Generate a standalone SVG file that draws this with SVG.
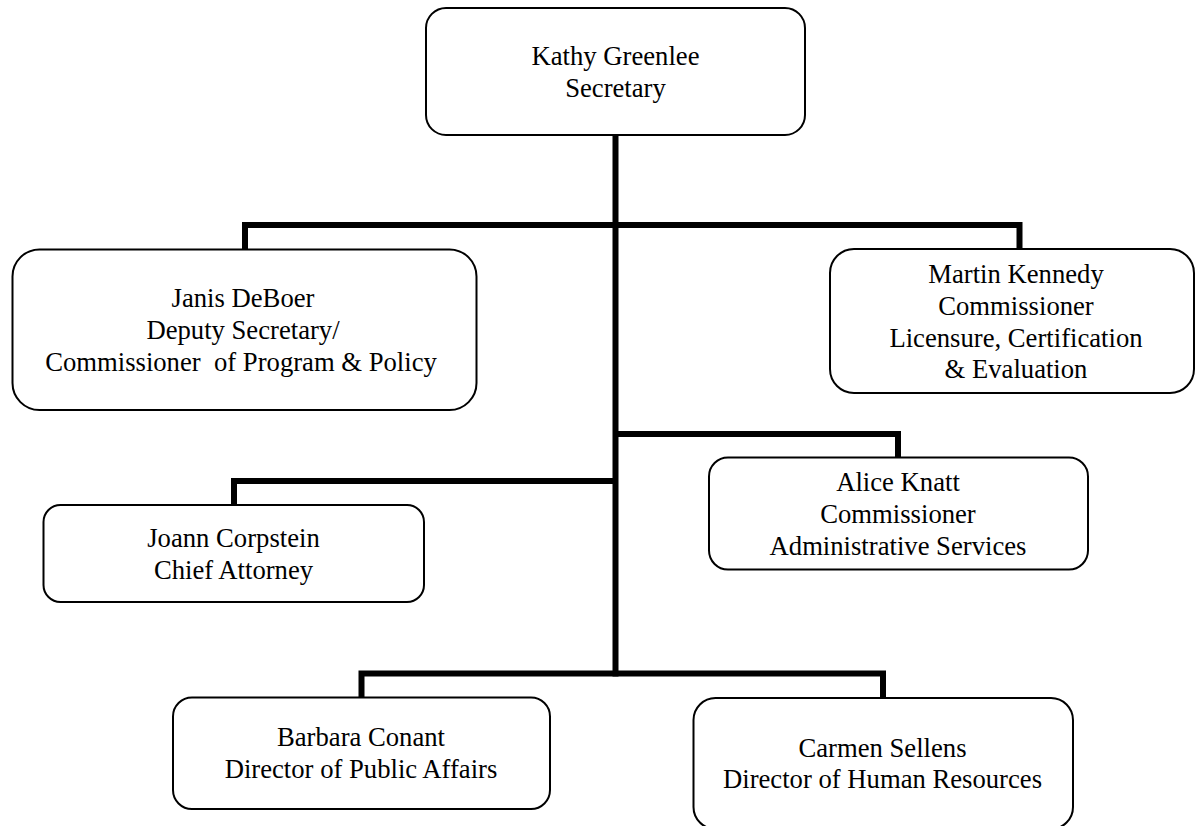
<svg xmlns="http://www.w3.org/2000/svg" width="1196" height="826" viewBox="0 0 1196 826">
<style>
.box{fill:#fff;stroke:#000;stroke-width:2}
.conn{fill:none;stroke:#000;stroke-width:6;stroke-linejoin:miter;stroke-linecap:butt}
text{font-family:"Liberation Serif","Times New Roman",serif;font-size:26.67px;fill:#000;text-anchor:middle;white-space:pre}
</style>
<rect width="1196" height="826" fill="#fff"/>
<g id="connectors">
<path class="conn" d="M615.5 135 V676.5"/>
<path class="conn" d="M245 250 V225 H1019.5 V250"/>
<path class="conn" d="M615.5 434 H898 V458"/>
<path class="conn" d="M234 506 V481 H615.5"/>
<path class="conn" d="M361.5 698 V673.5 H883 V699"/>
</g>
<g id="kathy">
<rect class="box" x="426" y="8" width="379" height="127" rx="20"/>
<text x="615.5" y="65">Kathy Greenlee</text>
<text x="615.5" y="97">Secretary</text>
</g>
<g id="janis">
<rect class="box" x="12.5" y="249.5" width="464" height="160.5" rx="27"/>
<text x="243" y="307">Janis DeBoer</text>
<text x="243" y="339">Deputy Secretary/</text>
<text x="241" y="371" xml:space="preserve">Commissioner  of Program &amp; Policy</text>
</g>
<g id="martin">
<rect class="box" x="830" y="249" width="364" height="144" rx="24"/>
<text x="1016" y="283">Martin Kennedy</text>
<text x="1016" y="315">Commissioner</text>
<text x="1016" y="347">Licensure, Certification</text>
<text x="1016" y="378">&amp; Evaluation</text>
</g>
<g id="joann">
<rect class="box" x="43.5" y="505" width="380.5" height="97" rx="17"/>
<text x="233.5" y="547">Joann Corpstein</text>
<text x="233.5" y="579">Chief Attorney</text>
</g>
<g id="alice">
<rect class="box" x="709" y="457.5" width="379" height="112" rx="19"/>
<text x="898" y="491">Alice Knatt</text>
<text x="898" y="523">Commissioner</text>
<text x="898" y="555">Administrative Services</text>
</g>
<g id="barbara">
<rect class="box" x="173" y="697.5" width="377" height="111.5" rx="19"/>
<text x="361" y="746">Barbara Conant</text>
<text x="361" y="778">Director of Public Affairs</text>
</g>
<g id="carmen">
<rect class="box" x="693.5" y="698" width="379.5" height="131" rx="22"/>
<text x="882.5" y="757">Carmen Sellens</text>
<text x="882.5" y="788">Director of Human Resources</text>
</g>
</svg>
